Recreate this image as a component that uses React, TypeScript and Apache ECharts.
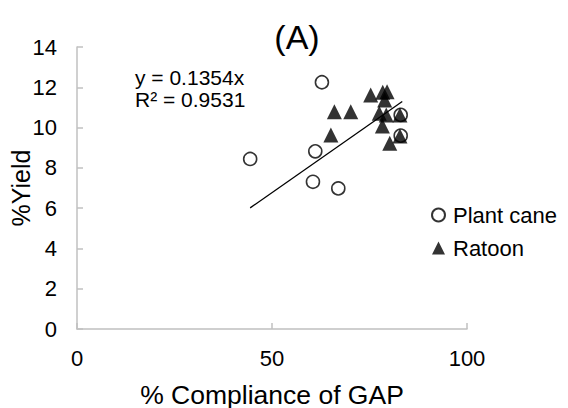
import React, { useEffect, useRef } from "react";
import * as echarts from "echarts";

const plantX = [44.4, 61.1, 62.8, 60.5, 67.0, 83.0, 83.0];
const plantY = [8.44, 8.82, 12.25, 7.31, 6.98, 10.63, 9.6];

const ratoonX = [65.1, 66.0, 70.2, 75.3, 78.4, 79.5, 78.9, 77.5, 79.3, 78.3, 80.2, 82.8, 82.8];
const ratoonY = [9.63, 10.79, 10.79, 11.62, 11.75, 11.78, 11.37, 10.71, 10.63, 10.08, 9.22, 9.58, 10.63];

const slope = 0.1354;
const trendXRange = [44.4, 83.4];
const equationLines = ["y = 0.1354x", "R² = 0.9531"];

const xTicks = [0, 50, 100];
const yTicks = [0, 2, 4, 6, 8, 10, 12, 14];

const FONT = "'Liberation Sans', Arial, sans-serif";

export default function App() {
  const ref = useRef<HTMLDivElement>(null);
  useEffect(() => {
    if (!ref.current) return;
    const chart = echarts.init(ref.current, undefined, { renderer: "svg" });
    const axisLineStyle = { color: "#c0c0c0", width: 1.5 };
    chart.setOption({
      animation: false,
      backgroundColor: "#ffffff",
      textStyle: { fontFamily: FONT },
      grid: { left: 77, right: 101, top: 47, bottom: 79, containLabel: false, outerBoundsMode: "none" },
      xAxis: {
        type: "value",
        min: xTicks[0],
        max: xTicks[xTicks.length - 1],
        interval: 50,
        name: "% Compliance of GAP",
        nameLocation: "middle",
        nameGap: 52,
        nameMoveOverlap: false,
        nameTextStyle: { fontSize: 26.5, color: "#000", fontFamily: FONT },
        axisLine: { show: true, lineStyle: axisLineStyle },
        axisTick: { show: true, inside: true, length: 6, lineStyle: axisLineStyle },
        axisLabel: { fontSize: 22, color: "#000", margin: 18, fontFamily: FONT },
        splitLine: { show: false },
      },
      yAxis: {
        type: "value",
        min: yTicks[0],
        max: yTicks[yTicks.length - 1],
        interval: 2,
        name: "%Yield",
        nameLocation: "middle",
        nameGap: 44,
        nameMoveOverlap: false,
        nameRotate: 90,
        nameTextStyle: { fontSize: 25, color: "#000", fontFamily: FONT },
        axisLine: { show: true, lineStyle: axisLineStyle },
        axisTick: { show: true, inside: true, length: 6, lineStyle: axisLineStyle },
        axisLabel: { fontSize: 22, color: "#000", margin: 20, fontFamily: FONT },
        splitLine: { show: false },
      },
      legend: {
        orient: "vertical",
        left: 431,
        top: 204,
        padding: 0,
        itemGap: 11,
        itemWidth: 13,
        itemHeight: 13,
        textStyle: { fontSize: 22, color: "#000", fontFamily: FONT, padding: [0, 0, 0, 3] },
        data: [
          { name: "Plant cane", icon: "circle" },
          { name: "Ratoon", icon: "triangle" },
        ],
      },
      graphic: [
        {
          type: "text",
          x: 297,
          y: 37,
          style: {
            text: "(A)",
            fontSize: 34,
            fontFamily: FONT,
            fill: "#000",
            textAlign: "center",
            textVerticalAlign: "middle",
          },
        },
        {
          type: "text",
          x: 135,
          y: 77,
          style: {
            text: equationLines[0],
            fontSize: 21,
            fontFamily: FONT,
            fill: "#000",
            textAlign: "left",
            textVerticalAlign: "middle",
          },
        },
        {
          type: "text",
          x: 135,
          y: 99,
          style: {
            text: equationLines[1],
            fontSize: 21,
            fontFamily: FONT,
            fill: "#000",
            textAlign: "left",
            textVerticalAlign: "middle",
          },
        },
      ],
      series: [
        {
          name: "Plant cane",
          type: "scatter",
          symbol: "circle",
          symbolSize: 13,
          itemStyle: { color: "#ffffff", borderColor: "#000000", borderWidth: 1.6 },
          data: plantX.map((x, i) => [x, plantY[i]]),
          z: 2,
        },
        {
          name: "Ratoon",
          type: "scatter",
          symbol: "triangle",
          symbolSize: 15,
          itemStyle: { color: "#000000" },
          data: ratoonX.map((x, i) => [x, ratoonY[i]]),
          z: 3,
        },
        {
          name: "Trend",
          type: "line",
          symbol: "none",
          silent: true,
          lineStyle: { color: "#000000", width: 1.3 },
          data: trendXRange.map((x) => [x, slope * x]),
          z: 4,
        },
      ],
    });
    return () => chart.dispose();
  }, []);
  return (
    <div
      ref={ref}
      style={{ position: "fixed", left: 0, top: 0, width: 568, height: 408, background: "#fff" }}
    />
  );
}
